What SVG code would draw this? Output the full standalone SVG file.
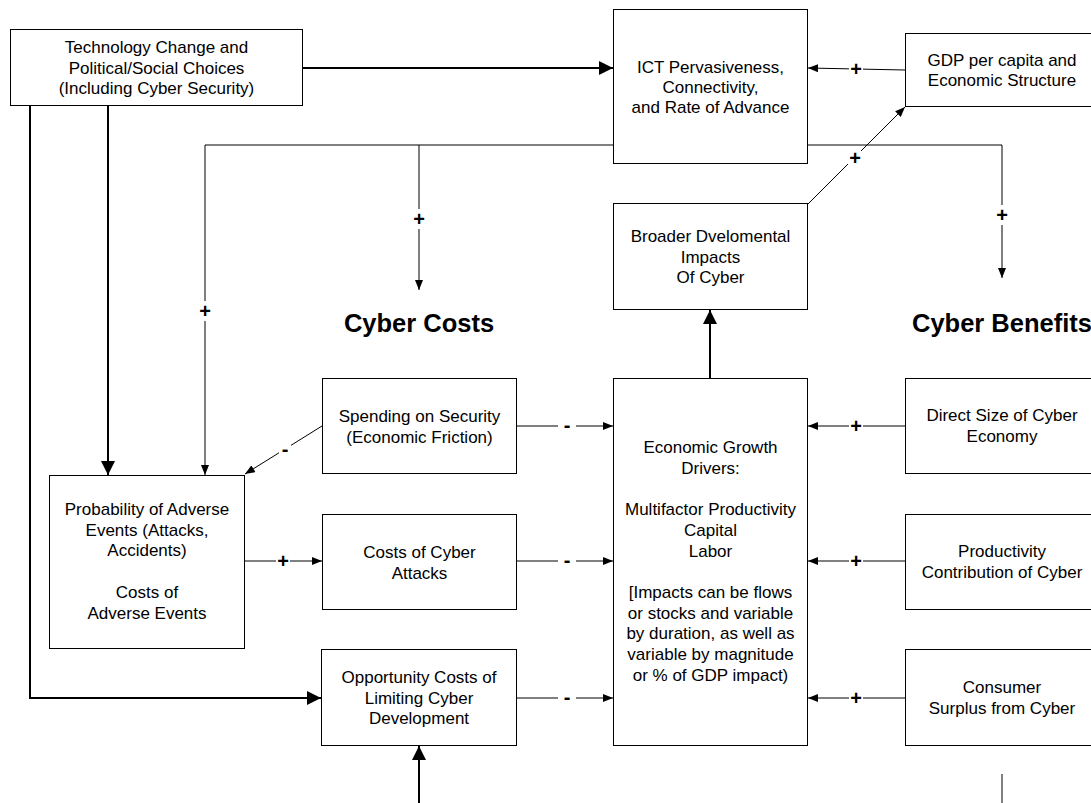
<svg xmlns="http://www.w3.org/2000/svg" width="1091" height="803" viewBox="0 0 1091 803">
<style>
.box{fill:#fff;stroke:#000;stroke-width:1}
.t{font-family:"Liberation Sans",Arial,sans-serif;font-size:17px;fill:#000;text-anchor:middle}
.h{font-family:"Liberation Sans",Arial,sans-serif;font-size:25.5px;font-weight:bold;fill:#000;text-anchor:middle}
.ln{fill:none;stroke:#000;stroke-width:1}
.bl{fill:none;stroke:#000;stroke-width:2}
.lb{font-family:"Liberation Sans",Arial,sans-serif;font-size:20px;font-weight:bold;fill:#000;text-anchor:middle}
.gap{fill:#fff}
</style>
<defs>
<marker id="sm" markerUnits="userSpaceOnUse" markerWidth="10" markerHeight="8" refX="10" refY="4" orient="auto"><path d="M0,0 L10,4 L0,8 z" fill="#000"/></marker>
<marker id="lg" markerUnits="userSpaceOnUse" markerWidth="14" markerHeight="14" refX="14" refY="7" orient="auto"><path d="M0,0 L14,7 L0,14 z" fill="#000"/></marker>
</defs>
<rect width="1091" height="803" fill="#fff"/>
<g id="connectors">
<line class="bl" x1="302" y1="68" x2="613" y2="68" marker-end="url(#lg)"/>
<line class="ln" x1="905" y1="70" x2="808" y2="68" marker-end="url(#sm)"/>
<polyline class="ln" points="613,145 205,145 205,475" marker-end="url(#sm)"/>
<line class="ln" x1="419" y1="145" x2="419" y2="290" marker-end="url(#sm)"/>
<polyline class="ln" points="808,145 1002,145 1002,278" marker-end="url(#sm)"/>
<line class="ln" x1="804" y1="208" x2="905" y2="107" marker-end="url(#sm)"/>
<line class="bl" x1="710" y1="378" x2="710" y2="310" marker-end="url(#lg)"/>
<line class="bl" x1="108" y1="106" x2="108" y2="475" marker-end="url(#lg)"/>
<polyline class="bl" points="30,106 30,698 321,698" marker-end="url(#lg)"/>
<line class="ln" x1="322" y1="426" x2="245" y2="474" marker-end="url(#sm)"/>
<line class="ln" x1="516" y1="426" x2="613" y2="426" marker-end="url(#sm)"/>
<line class="ln" x1="244" y1="561" x2="322" y2="561" marker-end="url(#sm)"/>
<line class="ln" x1="516" y1="561" x2="613" y2="561" marker-end="url(#sm)"/>
<line class="ln" x1="516" y1="698" x2="613" y2="698" marker-end="url(#sm)"/>
<line class="ln" x1="905" y1="426" x2="808" y2="426" marker-end="url(#sm)"/>
<line class="ln" x1="905" y1="561" x2="808" y2="561" marker-end="url(#sm)"/>
<line class="ln" x1="905" y1="698" x2="808" y2="698" marker-end="url(#sm)"/>
<line class="bl" x1="419" y1="803" x2="419" y2="746" marker-end="url(#lg)"/>
<line class="ln" x1="1002" y1="774" x2="1002" y2="803"/>
<g id="labels">
<rect class="gap" x="849" y="62" width="14" height="14"/><text class="lb" x="856" y="76">+</text>
<rect class="gap" x="412" y="209" width="14" height="20"/><text class="lb" x="419" y="226">+</text>
<rect class="gap" x="198" y="301" width="14" height="20"/><text class="lb" x="205" y="318">+</text>
<rect class="gap" x="995" y="205" width="14" height="20"/><text class="lb" x="1002" y="222">+</text>
<rect class="gap" x="848" y="151" width="14" height="14"/><text class="lb" x="855" y="165">+</text>
<rect class="gap" x="279" y="444" width="12" height="12"/><text class="lb" x="285" y="455.5">-</text>
<rect class="gap" x="558" y="421" width="18" height="10"/><text class="lb" x="567" y="431.5">-</text>
<rect class="gap" x="276" y="555" width="14" height="12"/><text class="lb" x="283" y="568">+</text>
<rect class="gap" x="558" y="556" width="18" height="10"/><text class="lb" x="567" y="566.5">-</text>
<rect class="gap" x="558" y="693" width="18" height="10"/><text class="lb" x="567" y="703.5">-</text>
<rect class="gap" x="849" y="419" width="14" height="14"/><text class="lb" x="856" y="433">+</text>
<rect class="gap" x="849" y="554" width="14" height="14"/><text class="lb" x="856" y="568">+</text>
<rect class="gap" x="849" y="691" width="14" height="14"/><text class="lb" x="856" y="705">+</text>
</g>
</g>
<g id="tech">
<rect class="box" x="10.5" y="29.5" width="292" height="76"/>
<text class="t" x="156.5" y="53">Technology Change and<tspan x="156.5" dy="20.7">Political/Social Choices</tspan><tspan x="156.5" dy="20.7">(Including Cyber Security)</tspan></text>
</g>
<g id="ict">
<rect class="box" x="613.5" y="9.5" width="194" height="154"/>
<text class="t" x="710.5" y="73">ICT Pervasiveness,<tspan x="710.5" dy="20">Connectivity,</tspan><tspan x="710.5" dy="20">and Rate of Advance</tspan></text>
</g>
<g id="gdp">
<rect class="box" x="905.5" y="33.5" width="194" height="73"/>
<text class="t" x="1002" y="66">GDP per capita and<tspan x="1002" dy="20">Economic Structure</tspan></text>
</g>
<g id="broader">
<rect class="box" x="613.5" y="203.5" width="194" height="106"/>
<text class="t" x="710.5" y="242">Broader Dvelomental<tspan x="710.5" dy="20.7">Impacts</tspan><tspan x="710.5" dy="20.7">Of Cyber</tspan></text>
</g>
<g id="cybercosts"><text class="h" x="419" y="332">Cyber Costs</text></g>
<g id="cyberbenefits"><text class="h" x="1002" y="332">Cyber Benefits</text></g>
<g id="spending">
<rect class="box" x="322.5" y="378.5" width="194" height="95"/>
<text class="t" x="419.5" y="422">Spending on Security<tspan x="419.5" dy="20.7">(Economic Friction)</tspan></text>
</g>
<g id="prob">
<rect class="box" x="49.5" y="475.5" width="195" height="173"/>
<text class="t" x="147" y="515">Probability of Adverse<tspan x="147" dy="20.7">Events (Attacks,</tspan><tspan x="147" dy="20.7">Accidents)</tspan><tspan x="147" dy="41.4">Costs of</tspan><tspan x="147" dy="20.7">Adverse Events</tspan></text>
</g>
<g id="costs">
<rect class="box" x="322.5" y="514.5" width="194" height="95"/>
<text class="t" x="419.5" y="558">Costs of Cyber<tspan x="419.5" dy="20.7">Attacks</tspan></text>
</g>
<g id="opportunity">
<rect class="box" x="321.5" y="649.5" width="195" height="96"/>
<text class="t" x="419" y="683">Opportunity Costs of<tspan x="419" dy="20.7">Limiting Cyber</tspan><tspan x="419" dy="20.7">Development</tspan></text>
</g>
<g id="econ">
<rect class="box" x="613.5" y="378.5" width="194" height="367"/>
<text class="t" x="710.5" y="453">Economic Growth<tspan x="710.5" dy="20.7">Drivers:</tspan><tspan x="710.5" dy="41.4">Multifactor Productivity</tspan><tspan x="710.5" dy="20.7">Capital</tspan><tspan x="710.5" dy="20.7">Labor</tspan><tspan x="710.5" dy="41.4">[Impacts can be flows</tspan><tspan x="710.5" dy="20.7">or stocks and variable</tspan><tspan x="710.5" dy="20.7">by duration, as well as</tspan><tspan x="710.5" dy="20.7">variable by magnitude</tspan><tspan x="710.5" dy="20.7">or % of GDP impact)</tspan></text>
</g>
<g id="direct">
<rect class="box" x="905.5" y="378.5" width="194" height="95"/>
<text class="t" x="1002" y="421">Direct Size of Cyber<tspan x="1002" dy="20.7">Economy</tspan></text>
</g>
<g id="productivity">
<rect class="box" x="905.5" y="514.5" width="194" height="95"/>
<text class="t" x="1002" y="557">Productivity<tspan x="1002" dy="20.7">Contribution of Cyber</tspan></text>
</g>
<g id="consumer">
<rect class="box" x="905.5" y="649.5" width="194" height="96"/>
<text class="t" x="1002" y="693">Consumer<tspan x="1002" dy="20.7">Surplus from Cyber</tspan></text>
</g>
</svg>
